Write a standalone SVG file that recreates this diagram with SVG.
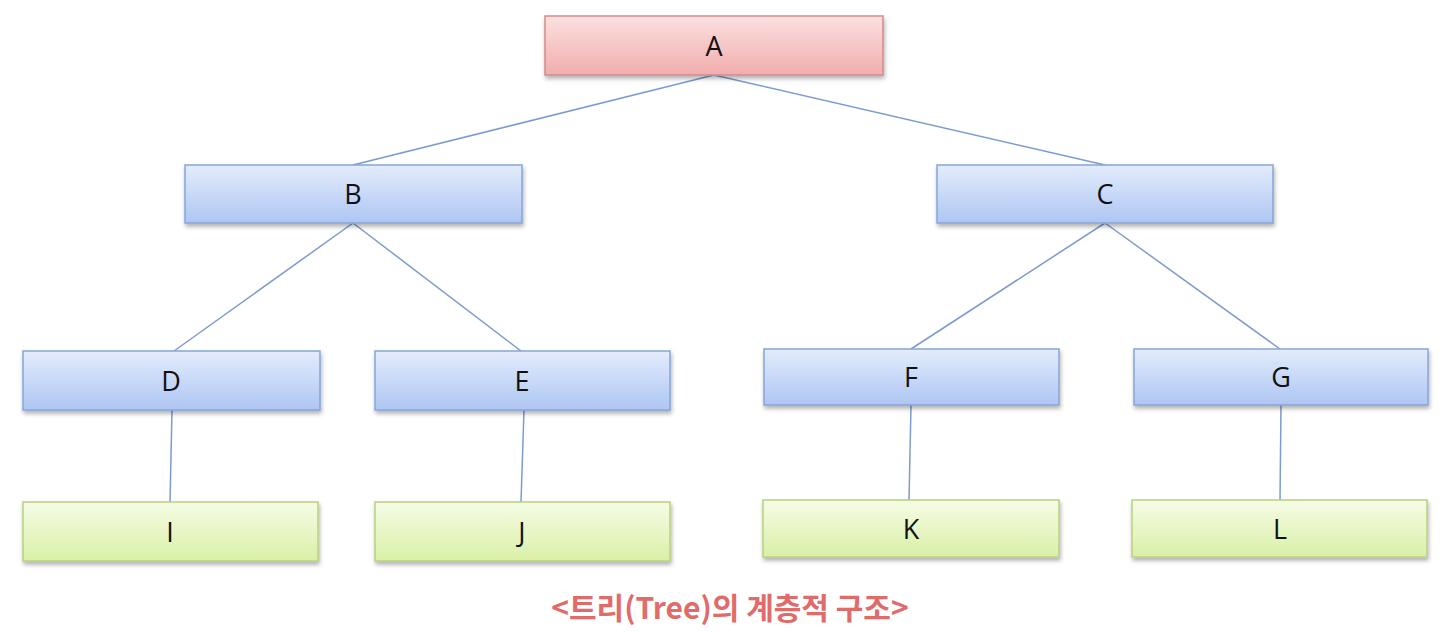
<svg xmlns="http://www.w3.org/2000/svg" width="1450" height="632" viewBox="0 0 1450 632">
<defs>
<linearGradient id="gr" x1="0" y1="0" x2="0" y2="1"><stop offset="0" stop-color="#fbe0e0"/><stop offset="1" stop-color="#f2adad"/></linearGradient>
<linearGradient id="gb" x1="0" y1="0" x2="0" y2="1"><stop offset="0" stop-color="#e3ecfc"/><stop offset="1" stop-color="#aec6f3"/></linearGradient>
<linearGradient id="gg" x1="0" y1="0" x2="0" y2="1"><stop offset="0" stop-color="#f6fce6"/><stop offset="1" stop-color="#d9f0a6"/></linearGradient>
<filter id="sh" x="-5%" y="-20%" width="110%" height="150%"><feDropShadow dx="1" dy="3" stdDeviation="2" flood-color="#000" flood-opacity="0.3"/></filter>
</defs>
<style>
.r{fill:url(#gr);stroke:#d58a8a;stroke-width:1.5;filter:url(#sh)}
.b{fill:url(#gb);stroke:#86a5d6;stroke-width:1.5;filter:url(#sh)}
.g{fill:url(#gg);stroke:#b8d27e;stroke-width:1.5;filter:url(#sh)}
.t{font-family:"Open Sans","Noto Sans",sans-serif;font-size:27px;fill:#111;text-anchor:middle}
.c line{stroke:#7c9bcf;stroke-width:1.5}
.cap{font-family:"Noto Sans CJK KR","Noto Sans",sans-serif;font-size:30px;font-weight:bold;fill:#e06b6b;text-anchor:middle}
</style>
<g id="connectors" class="c">
<line x1="714" y1="75" x2="353" y2="165"/>
<line x1="714" y1="75" x2="1105" y2="165"/>
<line x1="353" y1="223" x2="174" y2="351"/>
<line x1="353" y1="223" x2="521" y2="351"/>
<line x1="1105" y1="223" x2="911" y2="349"/>
<line x1="1105" y1="223" x2="1280" y2="349"/>
<line x1="172" y1="410" x2="170" y2="502"/>
<line x1="524" y1="410" x2="521" y2="502"/>
<line x1="911" y1="405" x2="909" y2="500"/>
<line x1="1281" y1="405" x2="1280" y2="500"/>
</g>
<g id="A"><rect class="r" x="545" y="16" width="338" height="59"/><text class="t" x="714" y="56">A</text></g>
<g id="B"><rect class="b" x="185" y="165" width="337" height="58"/><text class="t" x="353" y="204">B</text></g>
<g id="C"><rect class="b" x="937" y="165" width="336" height="58"/><text class="t" x="1105" y="204">C</text></g>
<g id="D"><rect class="b" x="23" y="351" width="297" height="59"/><text class="t" x="171" y="391">D</text></g>
<g id="E"><rect class="b" x="375" y="351" width="295" height="59"/><text class="t" x="522" y="391">E</text></g>
<g id="F"><rect class="b" x="764" y="349" width="295" height="56"/><text class="t" x="911" y="387">F</text></g>
<g id="G"><rect class="b" x="1134" y="349" width="294" height="56"/><text class="t" x="1281" y="387">G</text></g>
<g id="I"><rect class="g" x="23" y="502" width="295" height="59"/><text class="t" x="170" y="542">I</text></g>
<g id="J"><rect class="g" x="375" y="502" width="295" height="59"/><text class="t" x="522" y="542">J</text></g>
<g id="K"><rect class="g" x="763" y="500" width="296" height="57"/><text class="t" x="911" y="539">K</text></g>
<g id="L"><rect class="g" x="1132" y="500" width="295" height="57"/><text class="t" x="1280" y="539">L</text></g>
<text class="cap" x="730" y="619">&lt;트리(Tree)의 계층적 구조&gt;</text>
</svg>
